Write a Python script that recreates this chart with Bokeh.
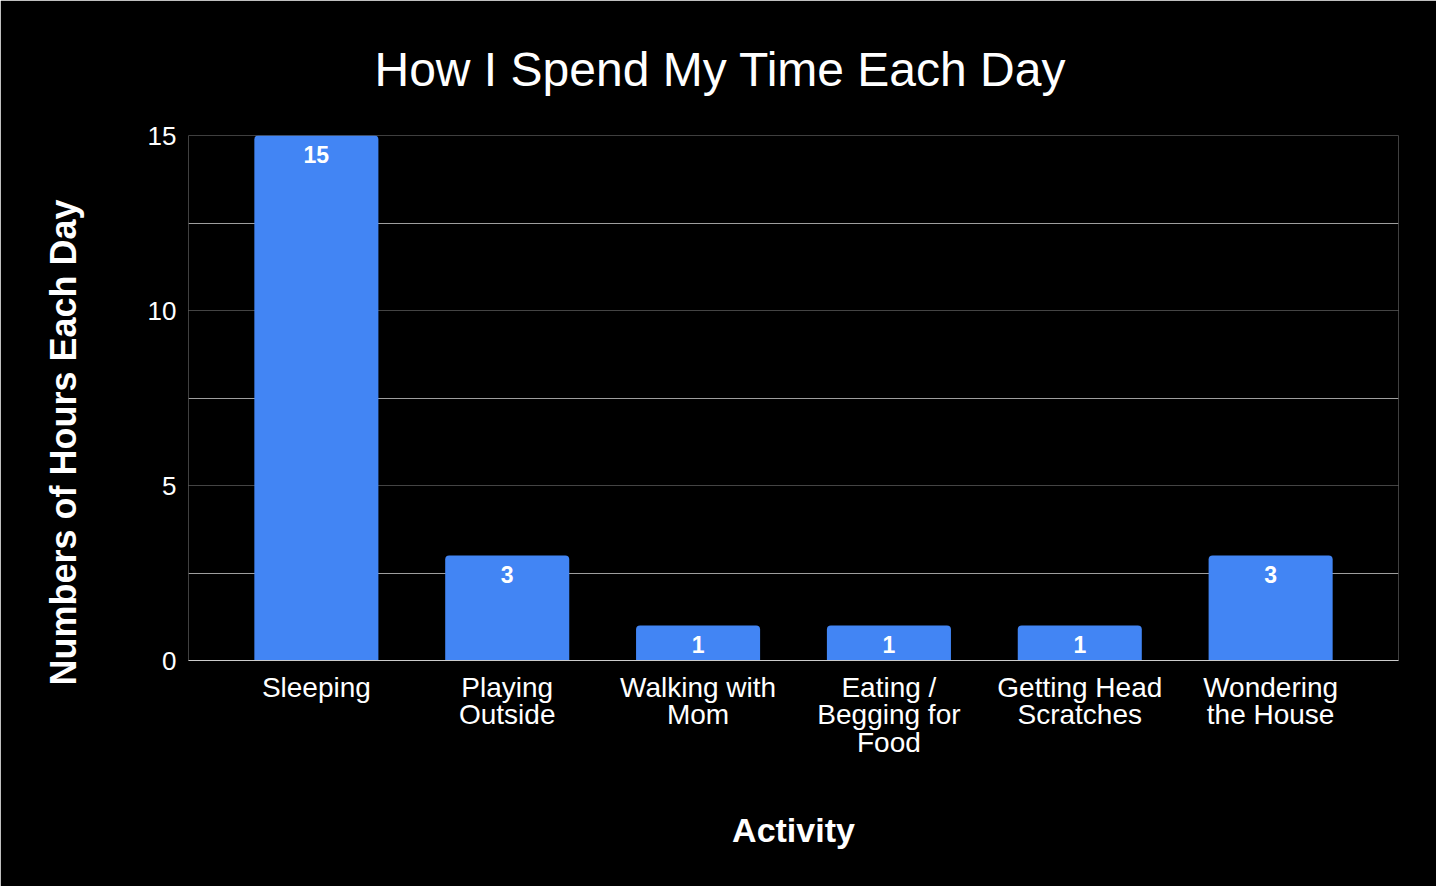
from bokeh.plotting import figure
from bokeh.models import ColumnDataSource, FactorRange, Range1d, SingleIntervalTicker, Label
from bokeh.core.properties import value
from bokeh.embed import file_html
from bokeh.resources import INLINE
import math

categories = ["Sleeping", "Playing\nOutside", "Walking with\nMom", "Eating /\nBegging for\nFood",
              "Getting Head\nScratches", "Wondering\nthe House"]
hours = [15, 3, 1, 1, 1, 3]
labels = [str(h) for h in hours]

FONT = "Liberation Sans"
source = ColumnDataSource(data=dict(cat=categories, hours=hours, label=labels))

p = figure(width=1436, height=886, output_backend="svg", toolbar_location=None,
           x_range=FactorRange(factors=categories, range_padding=0.17, range_padding_units="absolute"),
           y_range=Range1d(0, 15),
           min_border_left=188, min_border_right=38, min_border_top=135, min_border_bottom=226)

p.background_fill_color = "black"
p.border_fill_color = "black"
p.outline_line_color = None

p.vbar(x="cat", top="hours", width=0.65, source=source, fill_color="#4285F4", line_color=None,
       border_radius=(4, 4, 0, 0))
p.text(x="cat", y="hours", text="label", source=source, text_color="white",
       text_font=value(FONT), text_font_size="23px", text_font_style="bold",
       text_align="center", text_baseline="top", y_offset=10)

# title
p.title.text = "How I Spend My Time Each Day"
p.title.text_color = "white"
p.title.text_font = FONT
p.title.text_font_size = "48px"
p.title.text_font_style = "normal"
p.title.align = "left"
p.title.offset = 186
p.title.standoff = 80

# y axis
yax = p.yaxis[0]
yax.ticker = SingleIntervalTicker(interval=5, num_minor_ticks=2)
yax.axis_line_color = None
yax.major_tick_line_color = None
yax.minor_tick_line_color = None
yax.major_label_text_color = "white"
yax.major_label_text_font = FONT
yax.major_label_text_font_size = "26px"
yax.major_label_standoff = 6

ylabel = Label(x=-40, y=218, x_units="screen", y_units="screen",
               text="Numbers of Hours Each Day", text_color="white", text_font=FONT,
               text_font_size="36px", text_font_style="bold", angle=math.pi / 2,
               text_align="center", text_baseline="middle")
p.add_layout(ylabel, "left")

# x axis
xax = p.xaxis[0]
xax.axis_line_color = "#cccccc"
xax.axis_line_width = 1
xax.major_tick_line_color = None
xax.minor_tick_line_color = None
xax.major_label_text_color = "white"
xax.major_label_text_font = FONT
xax.major_label_text_font_size = "28px"
xax.major_label_text_line_height = 0.9
xax.major_label_standoff = 5
xax.major_label_orientation = "horizontal"
xax.axis_label = "Activity"
xax.axis_label_text_color = "white"
xax.axis_label_text_font = FONT
xax.axis_label_text_font_size = "34px"
xax.axis_label_text_font_style = "bold"
xax.axis_label_standoff = 50

# grids
p.xgrid.grid_line_color = None
p.ygrid.grid_line_color = "#444444"
p.ygrid.minor_grid_line_color = "#9e9e9e"

open("out.html", "w").write(file_html(p, INLINE))
